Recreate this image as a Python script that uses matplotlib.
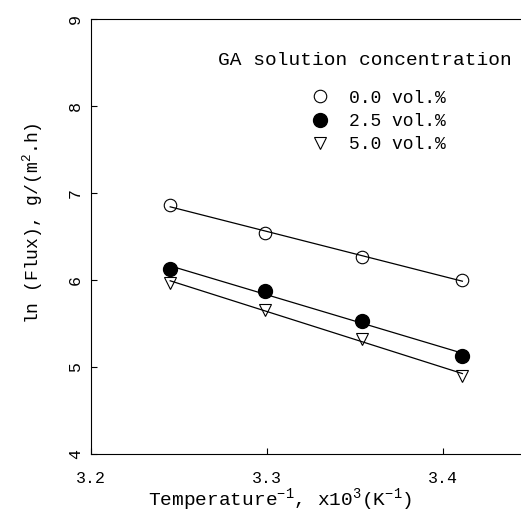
import numpy as np
import matplotlib
matplotlib.use("Agg")
import matplotlib.pyplot as plt

# inverse temperature x10^3 (1/K)
inv_temp = [3.245, 3.299, 3.354, 3.411]

# ln(flux) for each GA concentration
flux_00 = [6.86, 6.54, 6.27, 6.00]
flux_25 = [6.13, 5.87, 5.53, 5.13]
flux_50 = [5.97, 5.66, 5.32, 4.90]

labels = ["0.0 vol.%", "2.5 vol.%", "5.0 vol.%"]

plt.rcParams['font.family'] = ['Liberation Mono', 'DejaVu Sans']
plt.rcParams['mathtext.fontset'] = 'custom'
plt.rcParams['mathtext.rm'] = 'Liberation Mono'

fig = plt.figure(figsize=(5.21, 5.23), dpi=100)
ax = fig.add_axes([91 / 521, 69 / 523, 440 / 521, 435 / 523])

styles = [
    dict(marker='o', mfc='white', mec='black', ms=9, mew=0.8),
    dict(marker='o', mfc='black', mec='black', ms=10),
    dict(marker='v', mfc='white', mec='black', ms=8, mew=0.8),
]

x = np.array(inv_temp)
for ys, st, lab in zip([flux_00, flux_25, flux_50], styles, labels):
    ax.plot(x, ys, linestyle='none', label=lab, **st)
    k, b = np.polyfit(x, ys, 1)
    ax.plot(x, k * x + b, color='black', lw=0.9)

ax.set_xlim(3.2, 3.45)
ax.set_ylim(4, 9)
ax.set_xticks([3.2, 3.3, 3.4])
ax.set_yticks([4, 5, 6, 7, 8, 9])
ax.tick_params(direction='in', length=4, labelsize=12)
ax.tick_params(axis='x', pad=12)
ax.tick_params(axis='y', pad=6)
for t in ax.get_yticklabels():
    t.set_rotation(90)
    t.set_va('center')
ax.spines['right'].set_visible(False)

ax.set_xlabel(r"Temperature$^{-1}$, x10$^{3}$(K$^{-1}$)", fontsize=14)
ax.xaxis.set_label_coords(0.43, -0.075)
ax.set_ylabel(r"ln (Flux), g/(m$^{2}$.h)", fontsize=13)
ax.yaxis.set_label_coords(-0.105, 0.53)

ax.text(0.288, 0.905, "GA solution concentration", transform=ax.transAxes,
        fontsize=14, va='center', ha='left')
leg = ax.legend(loc='upper left', bbox_to_anchor=(0.46, 0.875), frameon=False,
                fontsize=13, handlelength=1.2, handletextpad=1.0,
                labelspacing=0.35, numpoints=1)

fig.savefig("out.png", dpi=100)
